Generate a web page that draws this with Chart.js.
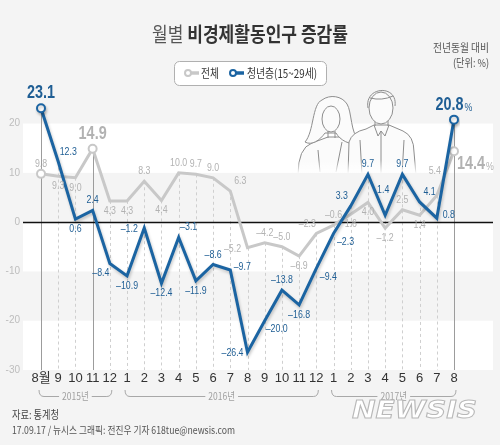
<!DOCTYPE html>
<html><head><meta charset="utf-8">
<script src="https://cdn.jsdelivr.net/npm/chart.js@4.4.1/dist/chart.umd.min.js"></script>
<style>html,body{margin:0;padding:0;background:#f4f4f4;}canvas{display:block;}</style>
</head><body>
<canvas id="c" width="500" height="445" style="width:500px;height:445px"></canvas>
<script>
// ---- data ----
const months = ['8월','9','10','11','12','1','2','3','4','5','6','7','8','9','10','11','12','1','2','3','4','5','6','7','8'];
const totalRate = [9.8,9.3,9.0,14.9,4.3,4.3,8.3,4.4,10.0,9.7,9.0,6.3,-5.2,-4.2,-5.0,-6.9,-2.3,-0.6,1.6,4.0,-1.2,2.5,1.4,5.4,14.4];
const youthRate = [23.1,12.3,0.6,2.4,-8.4,-10.9,-1.2,-12.4,-3.1,-11.9,-8.6,-9.7,-26.4,-20.0,-13.8,-16.8,-9.4,-2.3,3.3,9.7,1.4,9.7,4.1,0.8,20.8];
const yTicks = [-30,-20,-10,0,10,20];
const yearGroups = [{label:'2015년',from:0,to:4},{label:'2016년',from:5,to:16},{label:'2017년',from:17,to:24}];
const seriesNames = ['전체','청년층(15~29세)'];
const titleLight = '월별';
const titleBold = '비경제활동인구 증감률';
const subtitle1 = '전년동월 대비';
const subtitle2 = '(단위: %)';
const source1 = '자료: 통계청';
const source2 = '17.09.17 / 뉴시스 그래픽: 전진우 기자 618tue@newsis.com';

// ---- style ----
const BLUE = '#1b64a2', GRAY = '#c8c8c8', BG = '#f4f4f4';
const BLUE_T = '#1f5e94', GRAY_T = '#b2b2b2';
const NUM = '"Liberation Sans","Arial",sans-serif';
const KR = '"Noto Sans CJK KR","Noto Sans KR",sans-serif';
const COND = 0.8;
const totalPos = ['t','b','b','T','b','b','t','b','t','t','t','tr','l','t','t','b','tl','t','b','b','b','t','b','tt','R'];
const youthPos = ['T','tr','b','t','bl','b','l','b','tr','b','t','r','l','br','t','b','br','br','tl','t','tt','t','tr','r','T'];
const OFF = {t:[0,-10],b:[0,10],l:[-15,1],r:[12,-3],tr:[10,-10],tl:[-9,-10],br:[12,8],bl:[-9,9],tt:[-2,-25]};
const bigTotal = [3,24], bigYouth = [0,24];
const solidIdx = [0,3,24];

function fmt(v){ return (v<0?'–':'')+Math.abs(v).toFixed(1); }
function fitText(ctx, text, x, y, w, align){
  const m = ctx.measureText(text).width; const s = w/m;
  ctx.save(); ctx.translate(x,y); ctx.scale(s,1); ctx.textAlign=align||'left'; ctx.fillText(text,0,0); ctx.restore();
}
function condText(ctx, text, x, y, align, s){
  ctx.save(); ctx.translate(x,y); ctx.scale(s,1); ctx.textAlign=align||'center'; ctx.fillText(text,0,0); ctx.restore();
}

function drawPeople(ctx){
  ctx.save();
  ctx.strokeStyle='#8e8e8e'; ctx.lineWidth=1; ctx.fillStyle='#fbfbfb';
  ctx.beginPath();
  ctx.moveTo(298,175); ctx.quadraticCurveTo(298,148,312,143); ctx.lineTo(328,137);
  ctx.lineTo(342,137); ctx.lineTo(356,143); ctx.quadraticCurveTo(366,148,366,175);
  ctx.fill(); ctx.stroke();
  ctx.beginPath();
  ctx.moveTo(305,142); ctx.bezierCurveTo(314,132,312,104,322,100);
  ctx.bezierCurveTo(330,94,342,96,347,104);
  ctx.bezierCurveTo(352,112,350,132,360,143);
  ctx.bezierCurveTo(350,146,340,140,336,133);
  ctx.lineTo(325,133);
  ctx.bezierCurveTo(320,140,312,146,305,142);
  ctx.fill(); ctx.stroke();
  ctx.beginPath(); ctx.ellipse(331,119,9,13,0,0,Math.PI*2); ctx.fill(); ctx.stroke();
  ctx.beginPath(); ctx.moveTo(328,131); ctx.lineTo(328,138); ctx.moveTo(335,131); ctx.lineTo(335,138); ctx.stroke();
  ctx.beginPath(); ctx.moveTo(318,150); ctx.lineTo(320,172); ctx.moveTo(342,142); ctx.lineTo(336,172); ctx.stroke();
  ctx.beginPath();
  ctx.moveTo(348,175); ctx.lineTo(349,142); ctx.quadraticCurveTo(352,132,366,129); ctx.lineTo(374,125);
  ctx.lineTo(389,125); ctx.lineTo(403,131); ctx.quadraticCurveTo(414,136,414,152); ctx.lineTo(416,175);
  ctx.fill(); ctx.stroke();
  ctx.beginPath(); ctx.moveTo(374,125); ctx.lineTo(378,136); ctx.lineTo(381,131); ctx.lineTo(385,136); ctx.lineTo(389,125);
  ctx.moveTo(381,131); ctx.lineTo(381,175); ctx.moveTo(360,140); ctx.lineTo(362,175); ctx.moveTo(404,140); ctx.lineTo(402,175); ctx.stroke();
  ctx.beginPath(); ctx.moveTo(375,118); ctx.lineTo(375,126); ctx.moveTo(388,118); ctx.lineTo(388,126); ctx.stroke();
  ctx.beginPath(); ctx.ellipse(381,108,12,16,0,0,Math.PI*2); ctx.fill(); ctx.stroke();
  ctx.beginPath(); ctx.moveTo(368,108); ctx.bezierCurveTo(364,86,398,84,395,106);
  ctx.moveTo(370,98); ctx.quadraticCurveTo(382,101,393,96); ctx.stroke();
  ctx.restore();
}

const decor = {
  id:'decor',
  beforeDraw(chart){
    const {ctx} = chart; const y = chart.scales.y;
    ctx.save();
    ctx.fillStyle = BG; ctx.fillRect(0,0,chart.width,chart.height);
    ctx.fillStyle = '#ffffff';
    [[20,10],[0,-10],[-20,-30]].forEach(([a,b])=>{
      const ya = y.getPixelForValue(a), yb = y.getPixelForValue(b);
      ctx.fillRect(23, ya, 470, yb-ya);
    });
    drawPeople(ctx);
    const g = ctx.createLinearGradient(0,160,0,174);
    g.addColorStop(0,'rgba(255,255,255,0)'); g.addColorStop(1,'rgba(255,255,255,1)');
    ctx.fillStyle = g; ctx.fillRect(290,160,140,13);
    ctx.fillStyle = BG; ctx.fillRect(290, y.getPixelForValue(10), 140, y.getPixelForValue(0)-y.getPixelForValue(10));
    ctx.restore();
  },
  beforeDatasetsDraw(chart){
    const {ctx} = chart; const x = chart.scales.x, y = chart.scales.y;
    const bottom = y.getPixelForValue(-30);
    ctx.save();
    months.forEach((m,i)=>{
      const px = Math.round(x.getPixelForValue(i))+0.5;
      const top = y.getPixelForValue(Math.max(totalRate[i], youthRate[i]));
      ctx.beginPath();
      if (solidIdx.includes(i)) { ctx.setLineDash([]); ctx.strokeStyle='#9c9c9c'; }
      else { ctx.setLineDash([3,3]); ctx.strokeStyle='#cfcfcf'; }
      ctx.lineWidth=1; ctx.moveTo(px, top); ctx.lineTo(px, bottom); ctx.stroke();
    });
    ctx.setLineDash([]);
    const z = Math.round(y.getPixelForValue(0))+0.5;
    ctx.strokeStyle='#111'; ctx.lineWidth=1.3;
    ctx.beginPath(); ctx.moveTo(23,z); ctx.lineTo(493,z); ctx.stroke();
    ctx.restore();
  },
  beforeDatasetDraw(chart, args){
    if (args.index === 0) {
      const ctx = chart.ctx; ctx.save();
      ctx.shadowColor = 'rgba(0,0,0,0.22)'; ctx.shadowBlur = 3; ctx.shadowOffsetX = 1; ctx.shadowOffsetY = 2;
    }
  },
  afterDatasetDraw(chart, args){
    if (args.index === 0) chart.ctx.restore();
  },
  afterDraw(chart){
    const {ctx} = chart; const x = chart.scales.x, y = chart.scales.y;
    ctx.save();
    ctx.textBaseline='middle';
    function lab(vals,pos,bigs,color){
      vals.forEach((v,i)=>{
        const px = x.getPixelForValue(i), py = y.getPixelForValue(v);
        ctx.fillStyle = color;
        if (bigs.includes(i)) {
          const s = fmt(v); const pct = (i===24);
          ctx.font = 'bold 18px '+NUM;
          const w1 = ctx.measureText(s).width*0.8;
          ctx.font = '11px '+NUM;
          const w2 = pct ? ctx.measureText('%').width*0.8+1 : 0;
          let lx, ly;
          if (pos[i]==='R') { lx = px+3; ly = py+13; }
          else { lx = px-(w1+w2)/2; ly = py-15; }
          ctx.font = 'bold 18px '+NUM; condText(ctx, s, lx, ly, 'left', 0.8);
          if (pct) { ctx.font='11px '+NUM; condText(ctx, '%', lx+w1+1, ly+3, 'left', 0.8); }
        } else {
          const o = OFF[pos[i]];
          ctx.font = '11px '+NUM;
          condText(ctx, fmt(v), px+o[0], py+o[1], 'center', COND);
        }
      });
    }
    lab(totalRate,totalPos,bigTotal,GRAY_T);
    lab(youthRate,youthPos,bigYouth,BLUE_T);

    ctx.strokeStyle='#a8a8a8'; ctx.lineWidth=1; ctx.fillStyle='#a0a0a0';
    yearGroups.forEach(g=>{
      const a = x.getPixelForValue(g.from)-2, b = x.getPixelForValue(g.to)+2;
      const yy = 396.5, c = (a+b)/2;
      ctx.font = '10px '+KR;
      const tw = ctx.measureText(g.label).width*0.85+6;
      ctx.beginPath();
      ctx.moveTo(a,390); ctx.quadraticCurveTo(a,yy,a+5,yy); ctx.lineTo(c-tw/2,yy);
      ctx.moveTo(c+tw/2,yy); ctx.lineTo(b-5,yy); ctx.quadraticCurveTo(b,yy,b,390);
      ctx.stroke();
      condText(ctx, g.label, c, yy, 'center', 0.85);
    });

    ctx.textBaseline='middle';
    ctx.font = '20px '+KR; const wl = ctx.measureText(titleLight+' ').width;
    ctx.font = 'bold 20px '+KR; const wb = ctx.measureText(titleBold).width;
    const sc = 196/(wl+wb);
    ctx.save(); ctx.translate(152,34); ctx.scale(sc,1); ctx.textAlign='left';
    ctx.font = '20px '+KR; ctx.fillStyle='#555'; ctx.fillText(titleLight,0,0);
    ctx.font = 'bold 20px '+KR; ctx.fillStyle='#333'; ctx.fillText(titleBold,wl,0);
    ctx.restore();

    ctx.fillStyle='#555'; ctx.font='11px '+KR;
    fitText(ctx, subtitle1, 489, 48, 56, 'right');
    fitText(ctx, subtitle2, 489, 63, 36, 'right');

    ctx.save();
    ctx.fillStyle='#ffffff'; ctx.strokeStyle='#b0b0b0'; ctx.lineWidth=1;
    ctx.beginPath(); ctx.roundRect(174.5,61.5,152,24,5); ctx.fill(); ctx.stroke();
    function marker(x0,col){
      ctx.strokeStyle=col; ctx.lineWidth=3.5; ctx.beginPath(); ctx.moveTo(x0,73); ctx.lineTo(x0+14,73); ctx.stroke();
      ctx.fillStyle='#fff'; ctx.lineWidth=2; ctx.beginPath(); ctx.arc(x0+3,73,3,0,Math.PI*2); ctx.fill(); ctx.stroke();
    }
    marker(185,GRAY); marker(230,BLUE);
    ctx.fillStyle='#333'; ctx.font='12px '+KR; ctx.textBaseline='middle';
    fitText(ctx, seriesNames[0], 201, 73, 18, 'left');
    fitText(ctx, seriesNames[1], 247, 73, 70, 'left');
    ctx.restore();

    ctx.fillStyle='#444'; ctx.font='11px '+KR; ctx.textBaseline='middle';
    fitText(ctx, source1, 12, 415, 47, 'left');
    ctx.fillStyle='#555'; ctx.font='10.5px '+KR;
    fitText(ctx, source2, 12, 430, 223, 'left');

    ctx.font = 'italic bold 24px "DejaVu Sans",sans-serif';
    ctx.lineWidth=1; ctx.strokeStyle='#b8b8b8'; ctx.fillStyle='#ffffff';
    const nw = ctx.measureText('NEWSIS').width;
    ctx.save(); ctx.translate(352,412); ctx.scale(125/nw,1.0); ctx.textAlign='left';
    ctx.fillText('NEWSIS',0,0); ctx.strokeText('NEWSIS',0,0); ctx.restore();
    ctx.restore();
  }
};

const ptR = (big)=> (c)=> big.includes(c.dataIndex)?4:0;

new Chart(document.getElementById('c'), {
  type:'line',
  data:{
    labels: months,
    datasets:[
      {label:seriesNames[1], data:youthRate, borderColor:BLUE, borderWidth:3, tension:0,
       pointRadius:ptR([0,24]), pointHoverRadius:ptR([0,24]), pointBackgroundColor:'#fff', pointBorderColor:BLUE, pointBorderWidth:2, borderJoinStyle:'miter', order:1},
      {label:seriesNames[0], data:totalRate, borderColor:GRAY, borderWidth:3, tension:0,
       pointRadius:ptR([0,3,24]), pointHoverRadius:ptR([0,3,24]), pointBackgroundColor:'#fff', pointBorderColor:GRAY, pointBorderWidth:2, borderJoinStyle:'miter', order:2}
    ]
  },
  options:{
    responsive:false, animation:false, events:[],
    layout:{padding:{left:0,right:46,top:94,bottom:0}},
    plugins:{legend:{display:false}, tooltip:{enabled:false}},
    scales:{
      x:{grid:{display:false,drawTicks:false}, border:{display:false},
         ticks:{autoSkip:false,maxRotation:0,padding:1,color:'#333',font:{family:NUM+','+KR,size:13}},
         afterFit(s){ s.height = 75; }},
      y:{min:-30,max:26, grid:{display:false,drawTicks:false}, border:{display:false},
         afterBuildTicks(s){ s.ticks = yTicks.map(v=>({value:v})); },
         ticks:{padding:21,color:'#bdbdbd',font:{family:NUM,size:10}},
         afterFit(s){ s.width = 41; }}
    }
  },
  plugins:[decor]
});
</script>
</body></html>
